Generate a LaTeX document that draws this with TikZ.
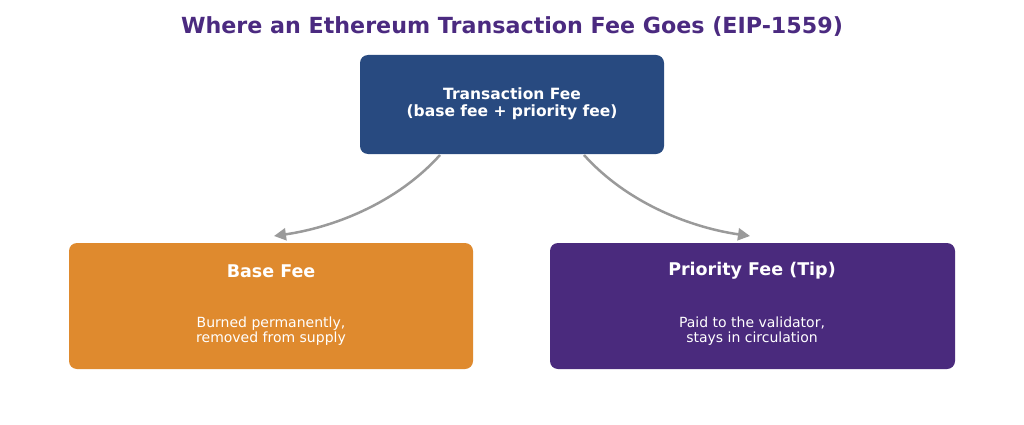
\documentclass[tikz,border=0pt]{standalone}
\usepackage{fontspec}
\setmainfont{DejaVu Sans}
\usetikzlibrary{arrows.meta}
\definecolor{ttl}{HTML}{4B2A80}
\definecolor{navy}{HTML}{284A80}
\definecolor{org}{HTML}{DF8A2E}
\definecolor{pur}{HTML}{4A2A7D}
\definecolor{arr}{HTML}{9A9A9A}
\begin{document}
\begin{tikzpicture}[x=1pt,y=-1pt,
 conn/.style={draw=arr,line width=2.5pt,-{Triangle[length=12pt,width=12pt]}}]
\useasboundingbox[fill=white] (0,0) rectangle (1024,425);
\node (title) at (512,27) {\fontsize{22.2}{25}\selectfont\bfseries\color{ttl}Where an Ethereum Transaction Fee Goes (EIP-1559)};
\fill[navy,rounded corners=8pt] (360,55) rectangle (664,154);
\node (top) at (512,104) [align=center,text=white,font=\fontsize{15.5}{17}\selectfont\bfseries] {Transaction Fee\\(base fee + priority fee)};
\fill[org,rounded corners=8pt] (69,243) rectangle (473,369);
\fill[pur,rounded corners=8pt] (550,243) rectangle (955,369);
\node (lt) at (271,271) [text=white,font=\fontsize{17.5}{20}\selectfont\bfseries] {Base Fee};
\node (lb) at (271,331) [text=white,align=center,font=\fontsize{14}{15.5}\selectfont] {Burned permanently,\\removed from supply};
\node (rt) at (752,271) [text=white,font=\fontsize{17.5}{20}\selectfont\bfseries] {Priority Fee (Tip)};
\node (rb) at (752,331) [text=white,align=center,font=\fontsize{14}{15.5}\selectfont] {Paid to the validator,\\stays in circulation};
\coordinate (s1) at (440,155); \coordinate (e1) at (274,236);
\coordinate (s2) at (584,155); \coordinate (e2) at (750,236);
\draw[conn] (s1) .. controls (395,205) and (330,228) .. (e1);
\draw[conn] (s2) .. controls (629,205) and (694,228) .. (e2);
\end{tikzpicture}
\end{document}
